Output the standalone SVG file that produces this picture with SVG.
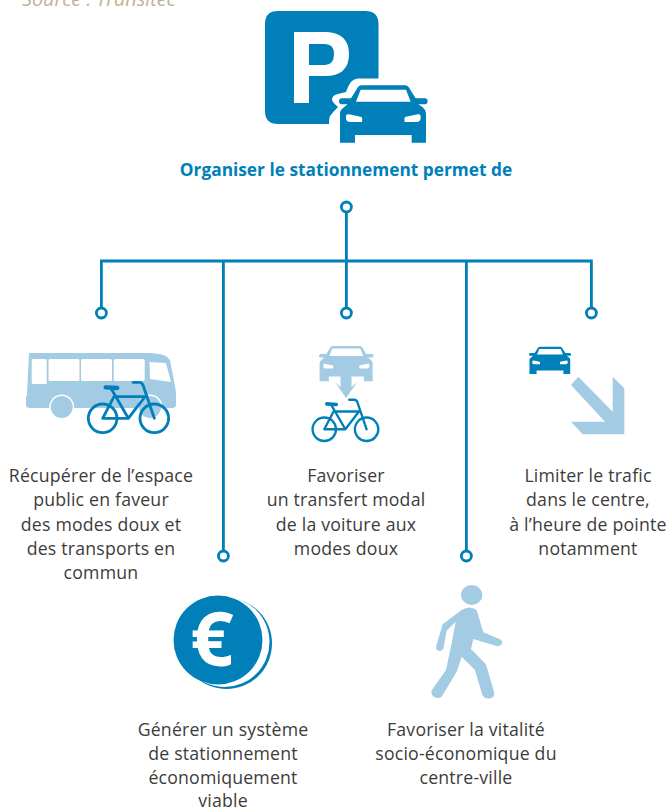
<svg xmlns="http://www.w3.org/2000/svg" xmlns:xlink="http://www.w3.org/1999/xlink" width="670" height="808" viewBox="0 0 670 808">
<style>
.t{font-family:"Open Sans","Liberation Sans",sans-serif;font-size:17.700px;letter-spacing:.2px;fill:#3c3c3b;text-anchor:middle}
.title{font-family:"Open Sans","Liberation Sans",sans-serif;font-size:17.300px;font-weight:700;fill:#007FB8;text-anchor:middle}
.src{font-family:"Open Sans","Liberation Sans",sans-serif;font-size:19.800px;font-style:italic;fill:#BFB391}
.c{fill:none;stroke:#007FB8;stroke-width:2.8}
.d{fill:#fff;stroke:#007FB8;stroke-width:2.8}
.dark{fill:#007FB8}
.light{fill:#A3CBE3}
.w{fill:#fff}
.bk{fill:none;stroke:#007FB8;stroke-width:8.500;stroke-linecap:round;stroke-linejoin:round}
</style>
<defs>
<g id="car-shape">
<path d="M303 295L320 268Q325 256 335 256L465 256Q475 256 480 268L497 295L525 295Q533 296 533 304Q533 312 525 313L505 313L518 322Q528 330 528 340L528 428L485 428L485 405L315 405L315 428L270 428L270 340Q270 330 282 322L293 313L275 313Q267 312 267 304Q267 296 275 295Z"/>
<path class="w" d="M332 269L468 269L482 305L318 305Z"/>
<path class="w" d="M288 347Q290 342 297 343L335 351Q339 358 336 366L298 366Q288 364 288 355Z"/>
<path class="w" d="M512 347Q510 342 503 343L465 351Q461 358 464 366L502 366Q512 364 512 355Z"/>
</g>
<g id="bike">
<circle cx="278" cy="235" r="43"/>
<circle cx="433" cy="235" r="43"/>
<path d="M303 145L355 235L278 235L312 170L405 170L355 235M369 127L390 127Q397 128 400 138L433 235"/>
<path stroke-width="13" d="M287 142L322 144"/>
</g>
</defs>
<text class="src" x="22" y="6">Source : Transitec</text>
<g id="connectors">
<path class="c" d="M346.400 212V261M101.400 307V261H591.400V307M346.400 261V307M223.400 261V550M466.400 261V550"/>
<circle class="d" cx="346.400" cy="207" r="5"/>
<circle class="d" cx="101.400" cy="313" r="5"/>
<circle class="d" cx="346.400" cy="313" r="5"/>
<circle class="d" cx="591.400" cy="313" r="5"/>
<circle class="d" cx="223.400" cy="556" r="5"/>
<circle class="d" cx="466.400" cy="556" r="5"/>
</g>
<g id="node-parking">
<path class="dark" d="M278 11H365Q378.500 11 378.500 24V78.500L358 78.500Q351 79 348 87L346 92L338 94Q332 95 332 100Q333 103 338 107Q333 112 330 116Q329 118 329 124H278Q265 124 265 111V24Q265 11 278 11Z"/>
<path class="w" fill-rule="evenodd" d="M294 32H326Q349 33 349 54Q349 76 325 76H309V103H294ZM309 44V65H325Q334 65 334 54Q334 44 325 44Z"/>
<use href="#car-shape" class="dark" transform="translate(250 0) scale(.3333)"/>
<text class="title" x="346" y="176">Organiser le stationnement permet de</text>
</g>
<g id="node-bus">
<path class="light" d="M29 353Q29 353 32 353L150 353Q165 354 167 357Q168 358 170 360L176 392L176 405Q176 408 172 408L30 408Q26 408 26 405L26 397L27 395Z"/>
<rect class="w" x="31.700" y="359" width="15" height="25" rx="1.500"/>
<rect class="w" x="48.500" y="359" width="31" height="22" rx="1.500"/>
<rect class="w" x="81" y="359" width="31" height="22" rx="1.500"/>
<rect class="w" x="113.700" y="359" width="31" height="22" rx="1.500"/>
<path class="w" d="M149.500 362L166 363L171 382L150 379Z"/>
<circle class="w" cx="61.700" cy="407" r="12.500"/>
<circle class="light" cx="61.700" cy="407" r="11"/>
<circle class="w" cx="150" cy="407" r="12.500"/>
<circle class="light" cx="150" cy="407" r="11"/>
<use href="#bike" class="bk" transform="translate(10 340) scale(.3333)"/>
<text class="t" x="101" y="482">Récupérer de l’espace</text>
<text class="t" x="101" y="506">public en faveur</text>
<text class="t" x="101" y="531">des modes doux et</text>
<text class="t" x="101" y="555">des transports en</text>
<text class="t" x="101" y="579">commun</text>
</g>
<g id="node-transfer">
<use href="#car-shape" class="light" transform="translate(264.100 293.300) scale(.2055)"/>
<polygon class="light" points="335,382 340.500,387 340.500,376 351.500,376 351.500,387 357.500,382 346,398"/>
<use href="#bike" class="bk" transform="translate(248.400 365.100) scale(.273)"/>
<text class="t" x="346" y="482">Favoriser</text>
<text class="t" x="346" y="506">un transfert modal</text>
<text class="t" x="346" y="531">de la voiture aux</text>
<text class="t" x="346" y="555">modes doux</text>
</g>
<g id="node-traffic">
<use href="#car-shape" class="dark" transform="translate(486.800 306.400) scale(.158)"/>
<polygon class="light" points="578.300,376.700 612.700,411.700 612.700,376.700 624.300,388.300 624.300,434.300 582.700,434.300 571,421.700 605,421.700 571,385"/>
<text class="t" x="588" y="482">Limiter le trafic</text>
<text class="t" x="588" y="506">dans le centre,</text>
<text class="t" x="588" y="531">à l’heure de pointe</text>
<text class="t" x="588" y="555">notamment</text>
</g>
<g id="node-euro">
<circle class="dark" cx="226.500" cy="643.500" r="45.500"/>
<circle class="w" cx="224.500" cy="642" r="45"/>
<circle class="dark" cx="218" cy="640" r="44.500"/>
<text x="212" y="666" font-family="Open Sans,sans-serif" font-size="76" font-weight="700" fill="#fff" text-anchor="middle">€</text>
<text class="t" x="223" y="736">Générer un système</text>
<text class="t" x="223" y="760">de stationnement</text>
<text class="t" x="223" y="784">économiquement</text>
<text class="t" x="223" y="807">viable</text>
</g>
<g id="node-walk">
<ellipse class="light" cx="471.700" cy="595" rx="10.700" ry="10"/>
<path class="light" transform="translate(420 575) scale(.3333)" d="M68 148L125 105Q150 90 170 105L190 172L240 193Q250 200 245 208Q240 215 230 213L170 195L160 192L153 222L198 268L222 350Q226 365 212 370Q195 373 187 360L165 285L125 245L110 290L65 365Q50 375 38 362Q30 350 38 342L78 285L95 205L107 140L80 167L70 222Q62 232 52 226Q47 222 49 212Z"/>
<text class="t" x="466" y="736">Favoriser la vitalité</text>
<text class="t" x="466" y="760">socio-économique du</text>
<text class="t" x="466" y="784">centre-ville</text>
</g>
</svg>
